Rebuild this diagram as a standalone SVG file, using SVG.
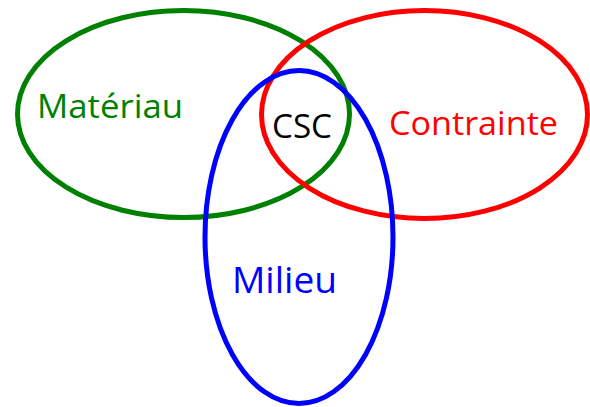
<svg xmlns="http://www.w3.org/2000/svg" width="590" height="407" viewBox="0 0 590 407">
<style>
ellipse{fill:none;stroke-width:5}
text{font-family:"Open Sans","Liberation Sans",sans-serif}
</style>
<rect width="590" height="407" fill="#fff"/>
<g id="materiau">
<ellipse cx="183.5" cy="114" rx="166" ry="103.5" stroke="#008000"/>
<text x="37" y="118" font-size="32" fill="#008000" textLength="146" lengthAdjust="spacingAndGlyphs">Matériau</text>
</g>
<g id="contrainte">
<ellipse cx="424.5" cy="114.5" rx="163" ry="104" stroke="#FF0000"/>
<text x="389" y="135" font-size="33" fill="#FF0000" textLength="169" lengthAdjust="spacingAndGlyphs">Contrainte</text>
</g>
<g id="milieu">
<ellipse cx="299" cy="237" rx="94" ry="166.5" stroke="#0000FF"/>
<text x="232" y="293" font-size="36" fill="#0000FF" textLength="105" lengthAdjust="spacingAndGlyphs">Milieu</text>
</g>
<g id="csc">
<text x="272" y="138" font-size="33" fill="#000" textLength="60" lengthAdjust="spacingAndGlyphs">CSC</text>
</g>
<g id="connectors"/>
</svg>
